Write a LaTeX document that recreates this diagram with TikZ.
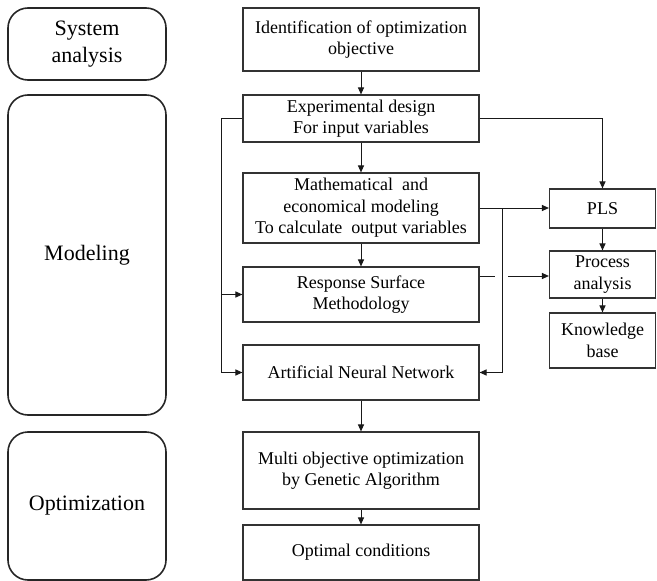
\documentclass[tikz,border=0pt]{standalone}
\usepackage{fontspec}
\setmainfont{Liberation Serif}
\newfontfamily\tnr{Liberation Serif}
\usetikzlibrary{arrows.meta}
\begin{document}
\begin{tikzpicture}[x=1pt,y=-1pt,
  phase/.style={draw=black!85,line width=1.6pt,rounded corners=20pt,align=center,
    font=\tnr\fontsize{22}{27}\selectfont,inner sep=0pt,minimum width=158pt},
  box/.style={draw=black!80,line width=1.1pt,align=center,
    font=\tnr\fontsize{18}{21.6}\selectfont,inner sep=0pt,minimum width=236pt},
  rbox/.style={draw=black!80,line width=1.1pt,align=center,
    font=\tnr\fontsize{18}{21.6}\selectfont,inner sep=0pt,minimum width=106pt},
  arr/.style={draw=black!90,line width=1pt,-{Triangle[length=7pt,width=6pt]}},
  ln/.style={draw=black!90,line width=1pt}]
\useasboundingbox (0,0) rectangle (657,581);
% phases
\node[phase,minimum height=72pt] (sys) at (87,44) {System\\analysis};
\node[phase,minimum height=320pt] (mod) at (87,255) {Modeling};
\node[phase,minimum height=148pt] (opt) at (87,506) {Optimization};
% main column
\node[box,minimum height=63pt] (ident) at (361,39.5) {Identification of optimization\\objective};
\node[box,minimum height=47pt] (exp) at (361,118.5) {Experimental design\\For input variables};
\node[box,minimum height=70pt] (math) at (361,208) {Mathematical\ \ and\\economical modeling\\To calculate\ \ output variables};
\node[box,minimum height=55pt] (rsm) at (361,294.5) {Response Surface\\Methodology};
\node[box,minimum height=55pt] (ann) at (361,372.5) {Artificial Neural Network};
\node[box,minimum height=77pt] (multi) at (361,470.5) {Multi objective optimization\\by Genetic Algorithm};
\node[box,minimum height=55pt] (optc) at (361,552.5) {Optimal conditions};
% right column
\node[rbox,minimum height=39pt] (pls) at (602.5,208.5) {PLS};
\node[rbox,minimum height=47pt] (proc) at (602.5,274.5) {Process\\analysis};
\node[rbox,minimum height=55pt] (know) at (602.5,340.5) {Knowledge\\base};
% coordinates
\coordinate (L) at (221,0);
\coordinate (R) at (502,0);
\coordinate (G1) at (495,276);
\coordinate (G2) at (508,276);
% vertical chain
\draw[arr] (ident) -- (exp);
\draw[arr] (exp) -- (math);
\draw[arr] (math) -- (rsm);
\draw[arr] (ann) -- (multi);
\draw[arr] (multi) -- (optc);
\draw[arr] (pls) -- (proc);
\draw[arr] (proc) -- (know);
% left feedback
\draw[arr] (exp.west) -| (L |- ann.west) -- (ann.west);
\draw[arr] (L |- rsm.west) -- (rsm.west);
% top right
\draw[arr] (exp.east) -| (pls.north);
\draw[arr] (math.east) -- (pls.west |- math.east);
\draw[arr] (R |- math.east) |- (ann.east);
% rsm to process (with gap at crossing)
\draw[ln] (rsm.east |- G1) -- (G1);
\draw[arr] (G2) -- (proc.west |- G2);
\end{tikzpicture}
\end{document}
